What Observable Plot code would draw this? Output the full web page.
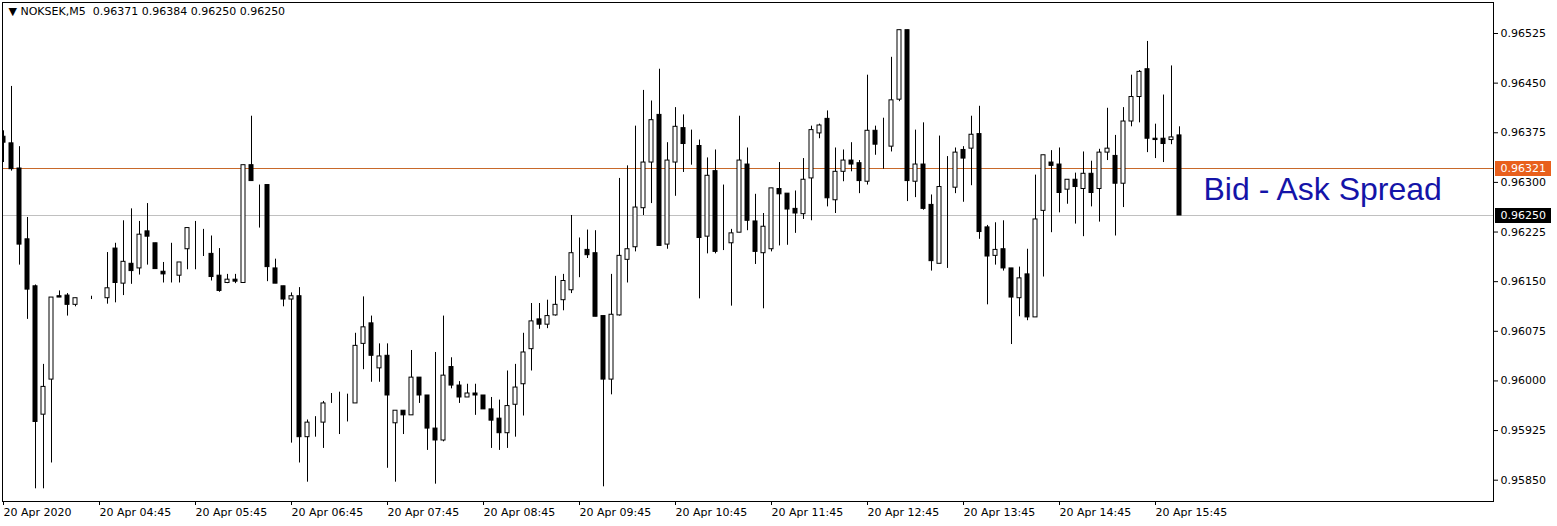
<!DOCTYPE html>
<html><head><meta charset="utf-8">
<script src="https://cdn.jsdelivr.net/npm/d3@7"></script>
<script src="https://cdn.jsdelivr.net/npm/@observablehq/plot@0.6"></script>
<style>
html,body{margin:0;padding:0;background:#fff;}
#chart svg{display:block;}
</style></head><body><div id="chart"></div>
<script>
const symbolName = "NOKSEK,M5";
const openP = [0.96369,0.96359,0.96321,0.96214,0.96143,0.95949,0.96002,0.96128,0.96129,0.96115,
0.96125,0.96125,0.96125,0.96125,0.96200,0.96147,0.96177,0.96170,0.96226,0.96208,
0.96165,0.96157,0.96159,0.96199,0.96207,0.96199,0.96192,0.96159,0.96148,0.96153,
0.96148,0.96326,0.96296,0.96296,0.96170,0.96143,0.96123,0.96128,0.95915,0.95937,
0.95937,0.95967,0.95967,0.95968,0.95966,0.96056,0.96087,0.96019,0.96038,0.95936,
0.95955,0.95948,0.96005,0.95978,0.95928,0.95910,0.96021,0.95993,0.95975,0.95981,
0.95978,0.95957,0.95943,0.95921,0.95964,0.95995,0.96048,0.96093,0.96085,0.96099,
0.96122,0.96137,0.96199,0.96198,0.96193,0.96098,0.96002,0.96099,0.96183,0.96202,
0.96261,0.96330,0.96402,0.96206,0.96330,0.96382,0.96362,0.96355,0.96218,0.96317,
0.96197,0.96208,0.96224,0.96327,0.96241,0.96193,0.96199,0.96290,0.96283,0.96260,
0.96252,0.96306,0.96374,0.96396,0.96273,0.96316,0.96333,0.96329,0.96301,0.96378,
0.96358,0.96354,0.96425,0.96530,0.96301,0.96327,0.96266,0.96177,0.96293,0.96292,
0.96349,0.96351,0.96373,0.96232,0.96189,0.96199,0.96170,0.96125,0.96161,0.96096,
0.96257,0.96330,0.96327,0.96289,0.96304,0.96290,0.96313,0.96290,0.96345,0.96340,
0.96298,0.96392,0.96429,0.96471,0.96366,0.96366,0.96364,0.96371];
const highP = [0.96378,0.96445,0.96354,0.96247,0.96145,0.96025,0.96126,0.96136,0.96132,0.96125,
0.96125,0.96128,0.96125,0.96194,0.96208,0.96242,0.96260,0.96241,0.96268,0.96208,
0.96179,0.96208,0.96179,0.96231,0.96241,0.96229,0.96219,0.96200,0.96161,0.96161,
0.96326,0.96400,0.96296,0.96296,0.96184,0.96143,0.96133,0.96141,0.95941,0.95946,
0.95969,0.95981,0.95983,0.95980,0.96072,0.96127,0.96098,0.96056,0.96056,0.95955,
0.95955,0.96046,0.96005,0.95978,0.96043,0.96098,0.96035,0.95999,0.95995,0.95995,
0.95978,0.95975,0.95971,0.96015,0.96025,0.96072,0.96117,0.96117,0.96122,0.96158,
0.96161,0.96250,0.96216,0.96228,0.96227,0.96098,0.96161,0.96306,0.96325,0.96385,
0.96439,0.96423,0.96471,0.96360,0.96413,0.96402,0.96379,0.96364,0.96337,0.96349,
0.96296,0.96229,0.96400,0.96352,0.96282,0.96253,0.96291,0.96330,0.96283,0.96287,
0.96336,0.96385,0.96388,0.96408,0.96352,0.96349,0.96360,0.96333,0.96462,0.96385,
0.96397,0.96489,0.96530,0.96530,0.96379,0.96390,0.96281,0.96370,0.96339,0.96352,
0.96354,0.96400,0.96415,0.96235,0.96239,0.96242,0.96170,0.96172,0.96199,0.96311,
0.96341,0.96348,0.96352,0.96304,0.96314,0.96346,0.96332,0.96350,0.96412,0.96371,
0.96413,0.96462,0.96469,0.96513,0.96388,0.96432,0.96476,0.96384];
const lowP = [0.96330,0.96317,0.96175,0.96093,0.95837,0.95837,0.95876,0.96126,0.96098,0.96112,
0.96125,0.96123,0.96125,0.96116,0.96118,0.96129,0.96146,0.96160,0.96175,0.96169,
0.96148,0.96148,0.96148,0.96168,0.96168,0.96188,0.96151,0.96134,0.96147,0.96147,
0.96148,0.96302,0.96231,0.96150,0.96147,0.96112,0.95906,0.95876,0.95847,0.95915,
0.95898,0.95966,0.95919,0.95938,0.95966,0.96017,0.95998,0.95998,0.95868,0.95847,
0.95919,0.95948,0.95966,0.95895,0.95844,0.95908,0.95988,0.95966,0.95975,0.95948,
0.95957,0.95898,0.95895,0.95898,0.95915,0.95947,0.96015,0.96078,0.96079,0.96098,
0.96106,0.96132,0.96156,0.96185,0.96097,0.95840,0.95979,0.96098,0.96148,0.96195,
0.96250,0.96268,0.96204,0.96199,0.96279,0.96315,0.96326,0.96124,0.96192,0.96192,
0.96197,0.96113,0.96224,0.96227,0.96176,0.96109,0.96195,0.96204,0.96205,0.96223,
0.96244,0.96242,0.96366,0.96263,0.96253,0.96301,0.96316,0.96283,0.96296,0.96341,
0.96320,0.96346,0.96422,0.96271,0.96277,0.96258,0.96166,0.96177,0.96170,0.96283,
0.96270,0.96295,0.96214,0.96115,0.96175,0.96166,0.96055,0.96097,0.96091,0.96096,
0.96157,0.96224,0.96254,0.96267,0.96237,0.96218,0.96263,0.96240,0.96333,0.96219,
0.96262,0.96384,0.96390,0.96345,0.96336,0.96330,0.96357,0.96250];
const closeP = [0.96360,0.96320,0.96206,0.96138,0.95938,0.95991,0.96126,0.96126,0.96115,0.96125,
0.96125,0.96125,0.96125,0.96140,0.96148,0.96180,0.96166,0.96221,0.96218,0.96169,
0.96161,0.96157,0.96179,0.96231,0.96207,0.96199,0.96157,0.96136,0.96153,0.96150,
0.96326,0.96302,0.96296,0.96172,0.96147,0.96123,0.96128,0.95915,0.95937,0.95937,
0.95966,0.95967,0.95967,0.95968,0.96053,0.96081,0.96038,0.96037,0.95978,0.95955,
0.95948,0.96005,0.95978,0.95928,0.95910,0.96008,0.95993,0.95975,0.95981,0.95978,
0.95957,0.95940,0.95921,0.95962,0.95990,0.96043,0.96090,0.96085,0.96098,0.96115,
0.96151,0.96193,0.96199,0.96190,0.96097,0.96002,0.96100,0.96189,0.96199,0.96262,
0.96330,0.96394,0.96204,0.96333,0.96384,0.96358,0.96362,0.96216,0.96310,0.96195,
0.96197,0.96223,0.96333,0.96242,0.96195,0.96233,0.96291,0.96282,0.96259,0.96253,
0.96304,0.96379,0.96386,0.96276,0.96316,0.96333,0.96327,0.96302,0.96378,0.96357,
0.96358,0.96424,0.96530,0.96302,0.96327,0.96260,0.96181,0.96293,0.96293,0.96345,
0.96336,0.96372,0.96225,0.96188,0.96198,0.96170,0.96126,0.96155,0.96096,0.96244,
0.96341,0.96325,0.96284,0.96304,0.96293,0.96313,0.96284,0.96345,0.96351,0.96298,
0.96392,0.96429,0.96467,0.96366,0.96364,0.96358,0.96368,0.96250];
const xTickLabels = ["20 Apr 2020","20 Apr 04:45","20 Apr 05:45","20 Apr 06:45","20 Apr 07:45",
"20 Apr 08:45","20 Apr 09:45","20 Apr 10:45","20 Apr 11:45","20 Apr 12:45","20 Apr 13:45",
"20 Apr 14:45","20 Apr 15:45"];
const barsPerHour = 12;
const priceTicks = [0.96525,0.96450,0.96375,0.96300,0.96225,0.96150,0.96075,0.96000,0.95925,0.95850];
const bidPrice = 0.96250;
const askPrice = 0.96321;
const annotation = "Bid - Ask Spread";

const bars = openP.map((o, i) => ({i, open: o, high: highP[i], low: lowP[i], close: closeP[i]}));
const lastBar = bars[bars.length - 1];
const fmt = d3.format(".5f");
const header = `\u25BC ${symbolName}  ${fmt(lastBar.open)} ${fmt(lastBar.high)} ${fmt(lastBar.low)} ${fmt(lastBar.close)}`;

// Plot shifts marks by +0.5px at DPR 1, so these are the un-shifted edges
const W = 1557, H = 526;
const padL = 2, padR = 1493, padT = 2, padB = 501;
const step = 8, x0 = 3;
const xDomain = [(padL - x0) / step, (padR - x0) / step];
const yTopTick = 33, yBotTick = 479.7;
const ppu = (yBotTick - yTopTick) / (priceTicks[0] - priceTicks[priceTicks.length - 1]);
const yDomain = [priceTicks[priceTicks.length - 1] - (padB - yBotTick) / ppu, priceTicks[0] + (yTopTick - padT) / ppu];
const tickIdx = xTickLabels.map((_, k) => k * barsPerHour);
const boxX1 = xDomain[1] + 2 / step, boxX2 = xDomain[1] + 58 / step;

const chart = Plot.plot({
  width: W, height: H,
  marginLeft: padL, marginRight: W - padR, marginTop: padT, marginBottom: H - padB,
  x: {type: "linear", domain: xDomain},
  y: {domain: yDomain},
  color: {type: "identity"},
  style: {fontFamily: "DejaVu Sans", fontSize: "11px", color: "#000", background: "#fff"},
  marks: [
    Plot.ruleY([bidPrice], {stroke: "#c0c0c0", strokeWidth: 1}),
    Plot.ruleY([askPrice], {stroke: "#c8692a", strokeWidth: 1}),
    Plot.text([annotation], {x: 150, y: 0.962885, text: d => d, textAnchor: "start",
      fill: "#1414a8", fontSize: 32, fontFamily: "Liberation Sans, Arial, sans-serif"}),
    Plot.ruleX(bars, {x: "i", y1: "low", y2: "high", stroke: "#000", strokeWidth: 1, clip: true}),
    Plot.rect(bars, {x1: d => d.i - 0.25, x2: d => d.i + 0.25, y1: "open", y2: "close",
      fill: d => d.close >= d.open ? "#ffffff" : "#000000", stroke: "#000", strokeWidth: 1, clip: true}),
    Plot.frame({stroke: "#000", strokeWidth: 1}),
    Plot.axisX({ticks: tickIdx, tickFormat: (d, k) => xTickLabels[k], tickSize: 4, tickPadding: 3,
      textAnchor: "start", fontSize: 11, label: null}),
    Plot.axisY({anchor: "right", ticks: priceTicks, tickFormat: fmt, tickSize: 4, tickPadding: 3, fontSize: 11, label: null}),
    Plot.ruleY([askPrice], {x1: boxX1, x2: boxX2, stroke: "#e8601c", strokeWidth: 15}),
    Plot.ruleY([bidPrice], {x1: boxX1, x2: boxX2, stroke: "#000", strokeWidth: 15}),
    Plot.text([askPrice], {y: d => d, text: d => fmt(d), frameAnchor: "right", dx: 7, textAnchor: "start", fill: "#fff", fontSize: 11}),
    Plot.text([bidPrice], {y: d => d, text: d => fmt(d), frameAnchor: "right", dx: 7, textAnchor: "start", fill: "#fff", fontSize: 11}),
    Plot.text([header], {frameAnchor: "top-left", dx: 6, dy: 5, text: d => d, textAnchor: "start", lineAnchor: "top", fill: "#000", fontSize: 11})
  ]
});
document.getElementById("chart").appendChild(chart);
</script></body></html>
